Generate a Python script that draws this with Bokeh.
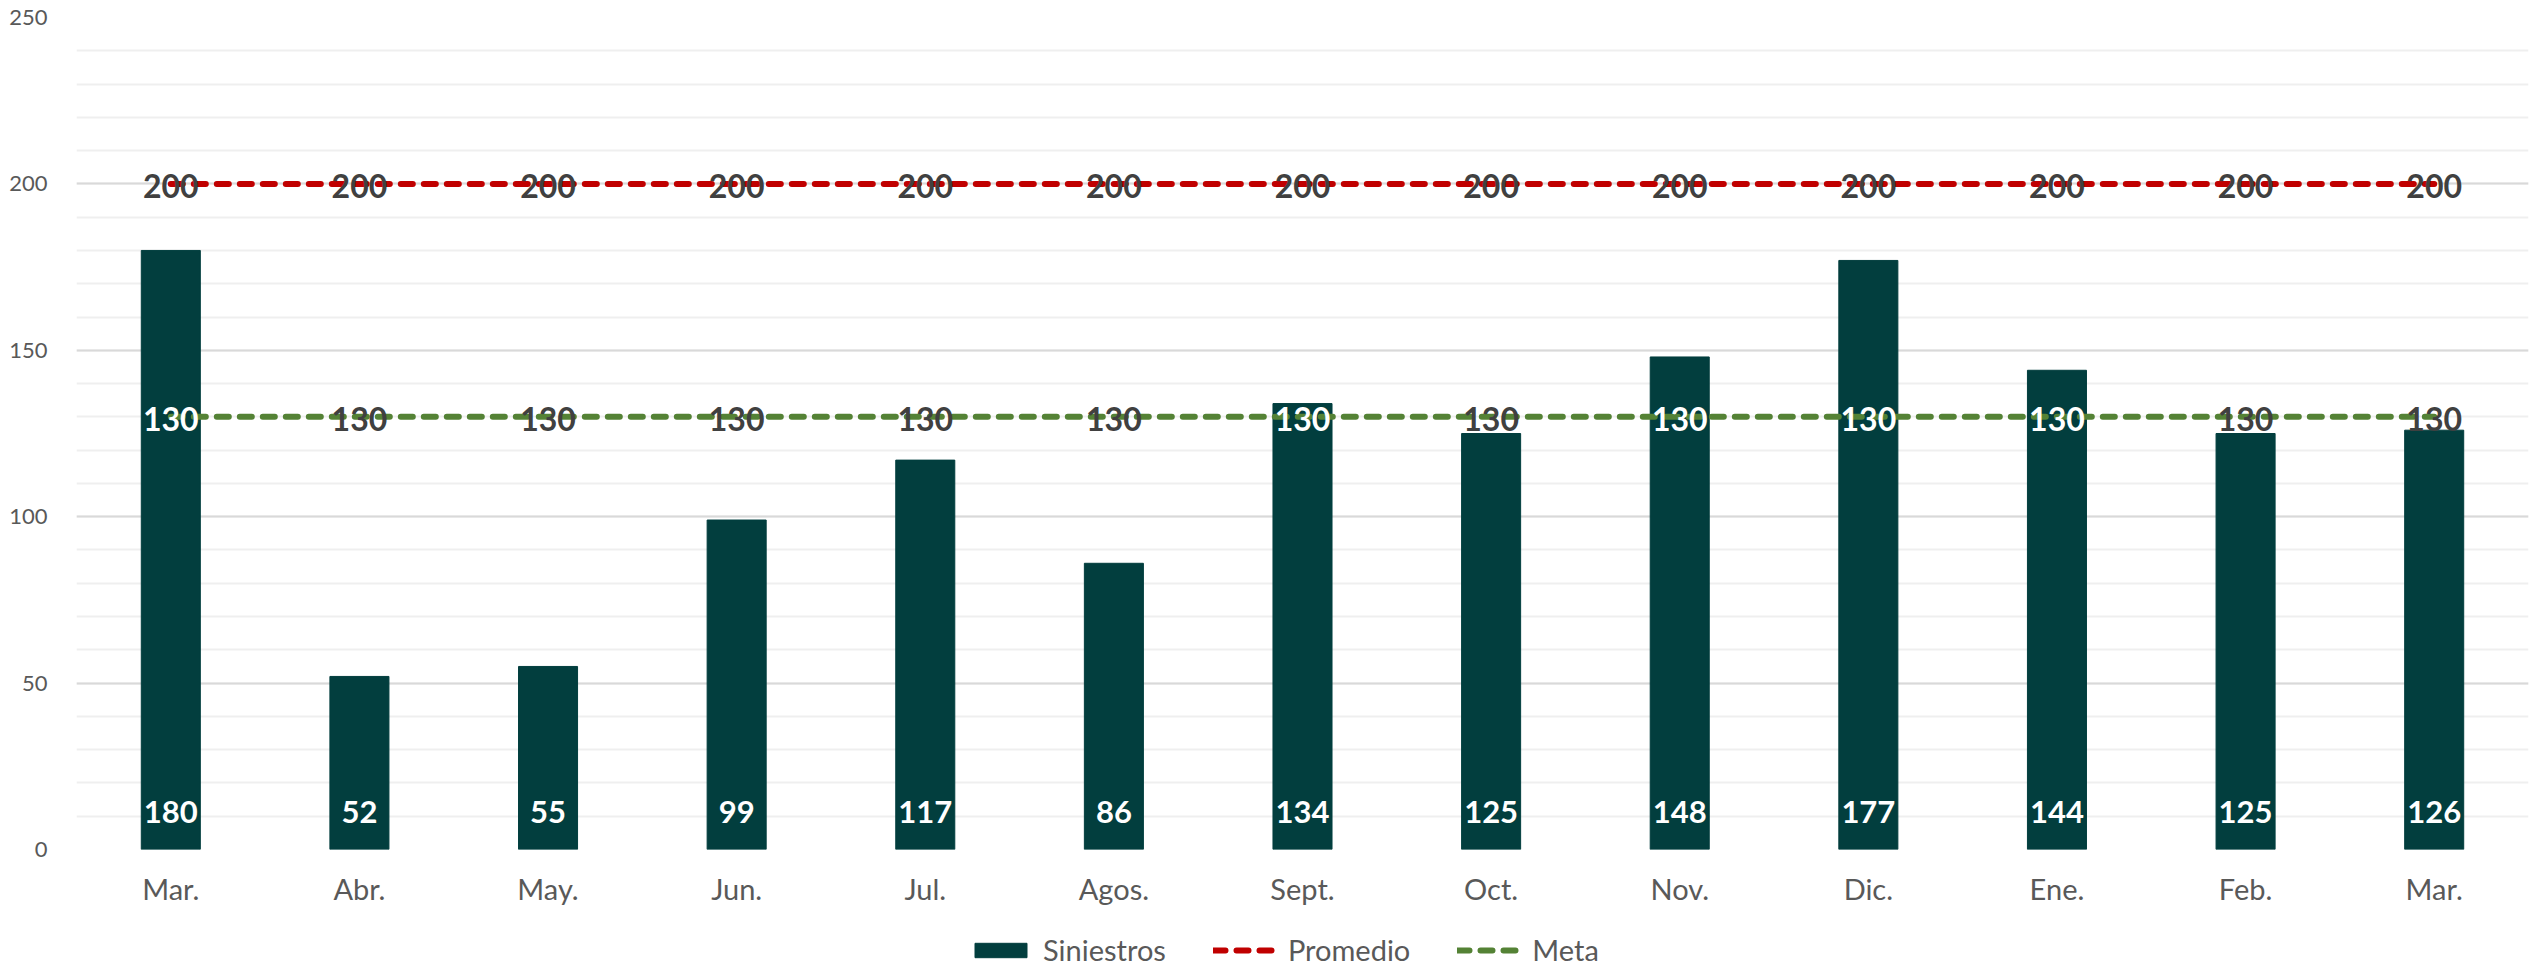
from bokeh.plotting import figure
from bokeh.layouts import column
from bokeh.models import (ColumnDataSource, Legend, LegendItem, SingleIntervalTicker,
                          Range1d, FixedTicker)
from bokeh.core.properties import value
from bokeh.embed import file_html
from bokeh.resources import INLINE

months = ["Mar.", "Abr.", "May.", "Jun.", "Jul.", "Agos.", "Sept.", "Oct.",
          "Nov.", "Dic.", "Ene.", "Feb.", "Mar."]
siniestros = [180, 52, 55, 99, 117, 86, 134, 125, 148, 177, 144, 125, 126]
promedio = [200, 200, 200, 200, 200, 200, 200, 200, 200, 200, 200, 200, 200]
meta = [130, 130, 130, 130, 130, 130, 130, 130, 130, 130, 130, 130, 130]

BAR = "#023E3E"
RED = "#C00000"
GREEN = "#548235"
DARK = "#404040"
GREY = "#595959"
FONT = "Lato"

x = list(range(len(months)))
src = ColumnDataSource(dict(
    x=x,
    siniestros=siniestros,
    promedio=promedio,
    meta=meta,
    zero=[0] * len(x),
    sin_lbl=[str(v) for v in siniestros],
    pro_lbl=[str(v) for v in promedio],
    meta_lbl=[str(v) for v in meta],
    meta_col=["white" if s > m else DARK for s, m in zip(siniestros, meta)],
))

BAR_STYLE = dict(width=0.313, fill_color=BAR, line_color=BAR)
RED_STYLE = dict(line_color=RED, line_width=6, line_dash="12 11", line_cap="round")
GREEN_STYLE = dict(line_color=GREEN, line_width=6, line_dash="12 11", line_cap="round")

p = figure(width=2529, height=925, output_backend="svg", toolbar_location=None,
           x_range=Range1d(-0.5, 12.5), y_range=Range1d(0, 250),
           min_border_left=76, min_border_right=1, min_border_top=17,
           min_border_bottom=76)
p.outline_line_color = None
p.background_fill_color = "white"
p.border_fill_color = "white"

# grid
p.xgrid.grid_line_color = None
p.ygrid.grid_line_color = "#D9D9D9"
p.ygrid.grid_line_width = 2
p.ygrid.minor_grid_line_color = "#EFEFEF"
p.ygrid.minor_grid_line_width = 2

# axes
p.yaxis.ticker = SingleIntervalTicker(interval=50, num_minor_ticks=5)
p.yaxis.axis_line_color = None
p.yaxis.major_tick_line_color = None
p.yaxis.minor_tick_line_color = None
p.yaxis.major_label_standoff = 23
p.yaxis.major_label_text_font = FONT
p.yaxis.major_label_text_font_size = "22px"
p.yaxis.major_label_text_color = GREY

p.xaxis.ticker = FixedTicker(ticks=x)
p.xaxis.major_label_overrides = {i: m for i, m in zip(x, months)}
p.xaxis.axis_line_color = None
p.xaxis.major_tick_line_color = None
p.xaxis.minor_tick_line_color = None
p.xaxis.major_label_standoff = 15
p.xaxis.major_label_text_font = FONT
p.xaxis.major_label_text_font_size = "29px"
p.xaxis.major_label_text_color = GREY

# bars and lines
p.vbar(x="x", top="siniestros", source=src, **BAR_STYLE)
p.line("x", "promedio", source=src, **RED_STYLE)
p.line("x", "meta", source=src, **GREEN_STYLE)

# labels
p.text(x="x", y="zero", text="sin_lbl", source=src, text_align="center",
       text_baseline="alphabetic", y_offset=-38, text_color="white",
       text_font=value(FONT), text_font_style="bold", text_font_size="31px")
p.text(x="x", y="promedio", text="pro_lbl", source=src, text_align="center",
       text_baseline="middle", y_offset=2, text_color=DARK,
       text_font=value(FONT), text_font_style="bold", text_font_size="32px")
p.text(x="x", y="meta", text="meta_lbl", source=src, text_align="center",
       text_baseline="middle", y_offset=2, text_color="meta_col",
       text_font=value(FONT), text_font_style="bold", text_font_size="32px")

# legend strip below the chart: same series as hidden renderers, only for the key
lf = figure(width=2529, height=42, output_backend="svg", toolbar_location=None,
            x_range=Range1d(-0.5, 12.5), y_range=Range1d(0, 250),
            x_axis_type=None, y_axis_type=None, min_border=0)
lf.outline_line_color = None
lf.border_fill_color = "white"
lf.background_fill_color = "white"
lf.xgrid.visible = False
lf.ygrid.visible = False
lg_bar = lf.vbar(x="x", top="siniestros", source=src, visible=False, **BAR_STYLE)
lg_red = lf.line("x", "promedio", source=src, visible=False, **RED_STYLE)
lg_green = lf.line("x", "meta", source=src, visible=False, **GREEN_STYLE)

legend = Legend(items=[LegendItem(label="Siniestros", renderers=[lg_bar]),
                       LegendItem(label="Promedio", renderers=[lg_red]),
                       LegendItem(label="Meta", renderers=[lg_green])],
                location=(892, 0), orientation="horizontal",
                glyph_width=65, glyph_height=18, label_standoff=10, spacing=47,
                padding=0, margin=0, border_line_color=None,
                background_fill_alpha=0, click_policy="none",
                label_text_font=FONT, label_text_font_size="29px",
                label_text_color=GREY)
lf.add_layout(legend, "center")

layout = column(p, lf, spacing=0)
open("out.html", "w").write(file_html(layout, INLINE))
